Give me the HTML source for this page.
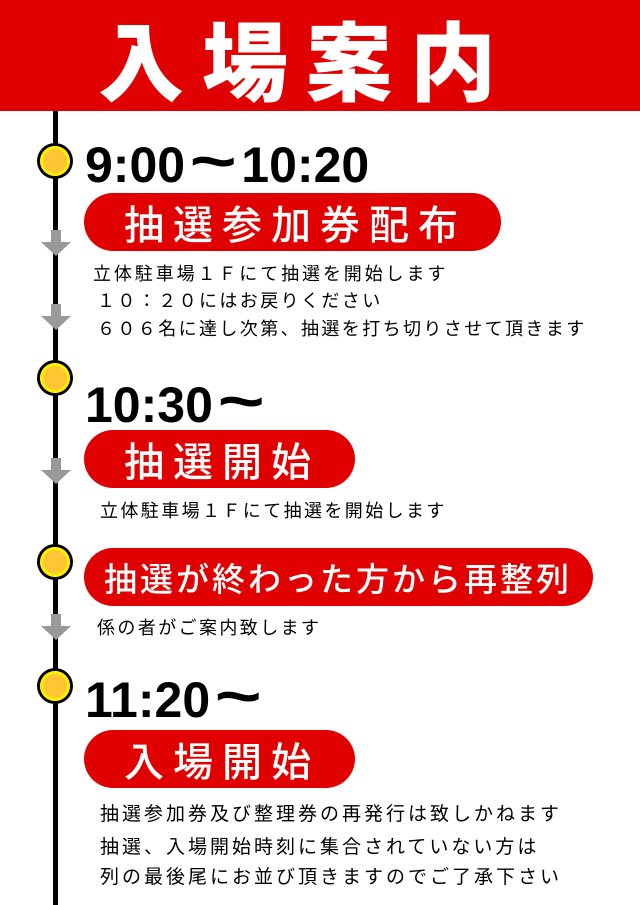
<!DOCTYPE html>
<html><head><meta charset="utf-8"><style>
*{margin:0;padding:0;box-sizing:border-box}
body{width:640px;height:905px;background:#fff;position:relative;overflow:hidden;font-family:"Liberation Sans","Noto Sans CJK JP",sans-serif}
.hdr{position:absolute;left:0;top:0;width:640px;height:111px;background:#e00000}
.title{position:absolute;left:98px;top:2px;font-size:86px;font-weight:900;color:#fff;letter-spacing:18px;line-height:110px;font-family:"Noto Sans CJK JP",sans-serif;white-space:nowrap}
.vline{position:absolute;left:53px;top:111px;width:5px;height:794px;background:#000}
.dot{position:absolute;width:36px;height:36px;border-radius:50%;background:#000;left:37px}
.dot::after{content:"";position:absolute;left:3px;top:3px;width:30px;height:30px;border-radius:50%;background:#ffc633;box-shadow:inset 0 0 0 3px #ffee00}
.arr{position:absolute;left:41px;width:30px;height:26px}
.time{position:absolute;left:85px;font-family:"Liberation Sans",sans-serif;font-weight:bold;font-size:50px;line-height:50px;color:#000;white-space:nowrap}
.time span{display:inline-block;font-size:62px;padding:0 4px;transform:scaleX(1.3);margin:0 6px}
.pill{position:absolute;left:84px;height:58px;background:#e00000;border-radius:29px;color:#fff;font-family:"Noto Sans CJK JP",sans-serif;font-weight:500;white-space:nowrap}
.txt{position:absolute;font-family:"Noto Sans CJK JP",sans-serif;font-size:18px;letter-spacing:2.4px;line-height:24px;color:#000;white-space:nowrap}
.big{font-size:19px;letter-spacing:3px}
</style></head><body>
<div class="hdr"></div>
<div class="title">入場案内</div>
<div class="vline"></div>

<div class="dot" style="top:143px"></div>
<div class="dot" style="top:360px"></div>
<div class="dot" style="top:544px"></div>
<div class="dot" style="top:668px"></div>

<svg class="arr" style="top:230px" viewBox="0 0 30 26"><path d="M10 0H20V12H30L15 26L0 12H10Z" fill="#999"/></svg>
<svg class="arr" style="top:304px" viewBox="0 0 30 26"><path d="M10 0H20V12H30L15 26L0 12H10Z" fill="#999"/></svg>
<svg class="arr" style="top:458px" viewBox="0 0 30 26"><path d="M10 0H20V12H30L15 26L0 12H10Z" fill="#999"/></svg>
<svg class="arr" style="top:614px" viewBox="0 0 30 26"><path d="M10 0H20V12H30L15 26L0 12H10Z" fill="#999"/></svg>

<div class="time" style="top:137px">9:00<span>~</span>10:20</div>
<div class="pill" style="top:193px;width:417px;font-size:40px;line-height:58px;padding-left:40px;letter-spacing:9px">抽選参加券配布</div>
<div class="txt" style="left:93px;top:261px;letter-spacing:2.9px">立体駐車場１Ｆにて抽選を開始します</div>
<div class="txt" style="left:97px;top:288px">１０：２０にはお戻りください</div>
<div class="txt" style="left:97px;top:316px">６０６名に達し次第、抽選を打ち切りさせて頂きます</div>

<div class="time" style="top:377px">10:30<span>~</span></div>
<div class="pill" style="top:430px;width:271px;font-size:40px;line-height:58px;padding-left:40px;letter-spacing:9px">抽選開始</div>
<div class="txt" style="left:100px;top:498px">立体駐車場１Ｆにて抽選を開始します</div>

<div class="pill" style="top:548px;width:509px;font-size:33px;line-height:58px;padding-left:20px;letter-spacing:3px">抽選が終わった方から再整列</div>
<div class="txt" style="left:97px;top:615px">係の者がご案内致します</div>

<div class="time" style="top:672px">11:20<span>~</span></div>
<div class="pill" style="top:730px;width:271px;font-size:40px;line-height:58px;padding-left:40px;letter-spacing:9px">入場開始</div>
<div class="txt big" style="left:100px;top:801px">抽選参加券及び整理券の再発行は致しかねます</div>
<div class="txt big" style="left:100px;top:834px">抽選、入場開始時刻に集合されていない方は</div>
<div class="txt big" style="left:100px;top:864px">列の最後尾にお並び頂きますのでご了承下さい</div>
</body></html>
